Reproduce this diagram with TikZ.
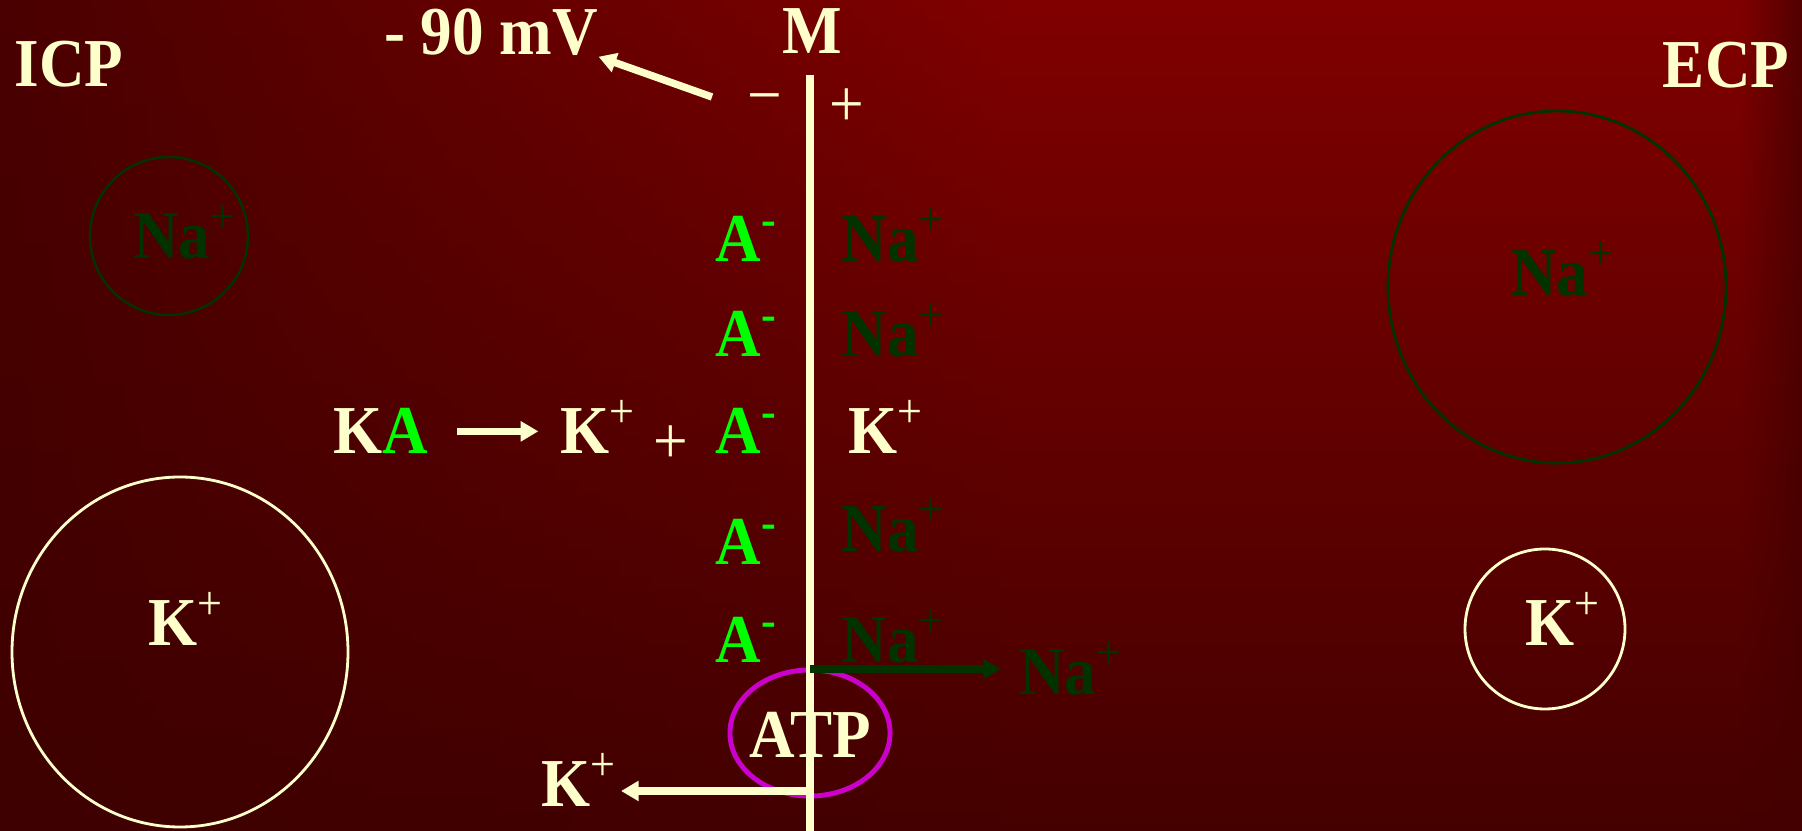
\documentclass[tikz,border=0pt]{standalone}
\usepackage{fontspec}
\setmainfont{Liberation Serif}[FakeStretch=0.92]
\definecolor{bgbright}{RGB}{128, 0, 0}
\definecolor{bgdark}{RGB}{68, 0, 0}
\definecolor{bgleft}{RGB}{74, 0, 0}
\definecolor{bgleftlow}{RGB}{62, 0, 0}
\definecolor{bgedge}{RGB}{82, 0, 0}
\definecolor{ioncream}{RGB}{255, 255, 204}
\definecolor{anion}{RGB}{0, 255, 0}
\definecolor{sodium}{RGB}{0, 51, 0}
\definecolor{pump}{RGB}{204, 0, 204}
\usetikzlibrary{positioning, arrows.meta, shapes.geometric, fadings}
\tikzfading[name=fadeleft, left color=transparent!0, right color=transparent!100]
\tikzfading[name=faderight, left color=transparent!100, right color=transparent!0]
\newcommand{\plusup}{\textsuperscript{\mdseries +}}

\begin{document}
\begin{tikzpicture}[x=0.01cm, y=-0.01cm, every node/.style={font=\fontsize{19.5}{24}\selectfont\bfseries, inner sep=0pt, text=ioncream, anchor=base},
    sign/.style={font=\fontsize{19}{22}\selectfont\mdseries},
    arr/.style={-{Triangle[length=5pt,width=5.5pt]}, line width=2.1pt}]
        \useasboundingbox (0,0) rectangle (1802,831);
        % background
        \shade[top color=bgbright, bottom color=bgdark] (0,0) rectangle (1802,831);
        \shade[top color=bgleft, bottom color=bgleftlow, path fading=fadeleft] (0,0) rectangle (1000,831);
        \shade[top color=bgedge, bottom color=bgdark, path fading=faderight] (1740,0) rectangle (1802,831);
        % ion clouds
        \draw[sodium, line width=0.7pt] (169,236) circle [radius=79];
        \draw[ioncream, line width=0.8pt] (180,652) ellipse [x radius=168, y radius=175];
        \draw[sodium, line width=0.8pt] (1557,287) ellipse [x radius=169, y radius=176];
        \draw[ioncream, line width=0.8pt] (1545,629) circle [radius=80];
        \node[text=sodium] (naicp) at (185,259) {Na\plusup};
        \node (kicp) at (186,646) {K\plusup};
        \node[text=sodium] (naecp) at (1563,296) {Na\plusup};
        \node (kecp) at (1563,646) {K\plusup};
        % pump
        \node[draw=pump, line width=1.4pt, ellipse, minimum width=1.6cm, minimum height=1.26cm, anchor=center] (atp) at (810,733) {};
        \node (atptext) at (810,758) {ATP};
        % membrane
        \coordinate (mtop) at (810,75); \coordinate (mbot) at (810,831);
        \draw[ioncream, line width=2pt] (mtop) -- (mbot);
        \node (icp) at (69,87) {ICP};
        \node (ecp) at (1726,88) {ECP};
        \node (m) at (812,54) {M};
        \node (mv) at (491,55) {- 90 mV};
        \node[sign] (minus) at (765,118) {−};
        \node[sign] (plus) at (847,127) {+};
        \coordinate (mvtail) at (712,97);
        \draw[arr, ioncream] (mvtail) -- (mv.south east);
        % charges along the membrane
        \foreach \y [count=\i] in {262,357,454,565,663} { \node[text=anion] (a\i) at (747,\y) {A\textsuperscript{-}}; }
        \foreach \y/\n in {262/1,357/2,552/4,663/5} { \node[text=sodium, anchor=base west] (na\n) at (841,\y) {Na\plusup}; }
        \node[anchor=base west] (k3) at (848,454) {K\plusup};
        % dissociation
        \node (ka) at (381,454) {K\textcolor{anion}{A}};
        \node (kfree) at (598,454) {K\plusup};
        \node[sign] (plusmid) at (671,464) {+};
        \draw[arr, ioncream, shorten <=8pt, shorten >=6pt] (ka.east) -- (ka.east -| kfree.west);
        % pump fluxes
        \node[text=sodium] (naout) at (1071,695) {Na\plusup};
        \node (kout) at (579,807) {K\plusup};
        \coordinate (napump) at (810,669); \coordinate (kpump) at (810,791);
        \draw[arr, sodium, shorten >=5pt] (napump) -- (napump -| naout.west);
        \draw[arr, ioncream, shorten >=1pt] (kpump) -- (kpump -| kout.east);
      \end{tikzpicture}
\end{document}
